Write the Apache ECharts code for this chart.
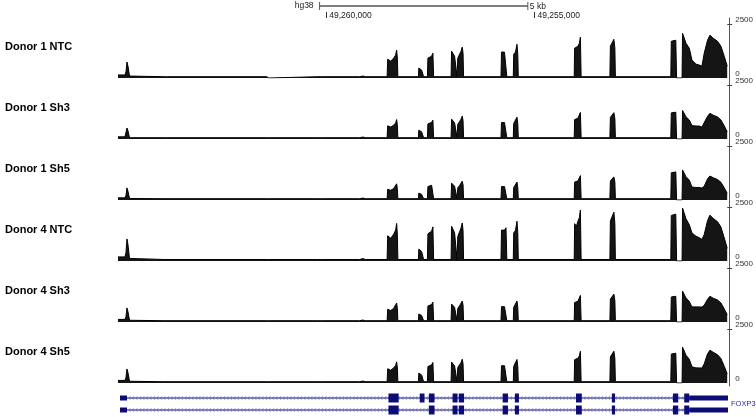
<!DOCTYPE html>
<html><head><meta charset="utf-8">
<script src="https://cdn.jsdelivr.net/npm/echarts@6/dist/echarts.min.js"></script>
<style>html,body{margin:0;padding:0;background:#fff}#c{width:756px;height:417px}</style>
</head><body><div id="c"></div>
<script>
// ---- data ----
const regionStart = 49265000;   // genomic coordinate at left edge (view is reversed)
const regionLen = 14670;        // bp shown
const trackNames = ['Donor 1 NTC', 'Donor 1 Sh3', 'Donor 1 Sh5', 'Donor 4 NTC', 'Donor 4 Sh3', 'Donor 4 Sh5'];
// positions: bp offset from left edge
const pos = [0,168,192,216,240,277,313, 1106,1118,1154,1166, 3583,3595,3632,3644, 4810,4858,4906, 5820,5892,5964,
  6481,6494,6566,6590,6638,6686,6710,6727,6739, 7234,7244,7287,7311,7347,7359, 7451,7463,7504,7552,7583,7600,
  8021,8033,8057,8105,8153,8165,8182,8225,8261,8290,8309,8321, 9223,9235,9271,9307,9343,9363,
  9519,9529,9572,9608,9627,9639, 10986,10996,11039,11075,11111,11135,11152, 11845,11857,11905,11941,11965,11977,
  13312,13324,13372,13432,13451, 13583,13595,13677,13757,13821,13918,13997,14062,14117,14197,14254,14334,14437,14519,14598,14670];
const donor1NTC = [140,140,280,740,550,90,60, 60,0,0,60, 60,0,0,60, 60,90,60, 60,90,60, 60,870,780,740,920,1060,1290,920,60, 60,460,410,370,410,60, 60,920,970,1010,1150,60, 60,1240,1200,1010,1010,60,920,1100,1240,1430,1150,60, 60,1200,1240,1200,1290,60, 60,1100,1200,1560,1100,60, 60,1380,1290,1470,1610,1890,60, 60,1470,1520,1790,1380,60, 60,1700,1750,1750,0, 0,2070,1610,1380,830,640,600,550,1150,1750,1980,1840,1700,1470,1010,550];
const donor1Sh3 = [100,100,190,510,380,60,60, 60,0,0,60, 60,60,60,60, 60,90,60, 60,90,60, 60,610,550,520,640,740,900,640,60, 60,410,370,330,370,60, 60,700,740,770,870,60, 60,920,890,750,750,60,680,810,920,1060,850,60, 60,760,780,760,810,60, 60,720,780,1010,720,60, 60,900,840,960,1050,1230,60, 60,1000,1030,1220,940,60, 60,1210,1240,1240,0, 0,1320,1030,880,620,600,600,550,760,1050,1190,1100,1020,880,610,330];
const donor1Sh5 = [100,100,210,560,410,70,60, 60,60,60,60, 60,60,60,60, 60,90,60, 60,90,60, 60,500,450,430,530,610,750,530,60, 60,320,290,260,290,60, 60,620,650,680,770,60, 60,780,760,640,640,60,560,670,760,870,700,60, 60,620,650,620,670,60, 60,580,640,830,580,60, 60,830,770,880,970,1130,60, 60,880,910,1070,830,60, 60,1260,1300,1300,0, 0,1390,1080,920,600,580,580,550,640,980,1110,1030,950,820,570,310];
const donor4NTC = [190,190,390,1020,760,120,70, 70,70,70,70, 70,70,70,70, 70,110,70, 70,110,70, 70,1170,1050,1000,1240,1430,1740,1240,70, 70,550,490,440,490,70, 70,1260,1330,1380,1580,70, 70,1610,1560,1310,1310,70,1130,1350,1530,1760,1410,70, 70,1430,1480,1430,1540,70, 70,1300,1420,1840,1300,70, 70,1730,1610,1840,2010,2360,70, 70,1850,1920,2260,1740,70, 70,2110,2170,2170,0, 0,2450,1960,1680,1300,1150,1080,1000,1230,1870,2120,1970,1820,1570,1080,590];
const donor4Sh3 = [120,120,250,650,480,80,60, 60,60,60,60, 60,60,60,60, 60,90,60, 60,90,60, 60,590,530,500,630,720,880,630,60, 60,370,330,300,330,60, 60,740,780,810,920,60, 60,830,800,680,680,60,630,750,840,970,780,60, 60,710,730,710,760,60, 60,680,740,970,680,60, 60,900,840,960,1050,1230,60, 60,1060,1090,1290,990,60, 60,1160,1190,1190,0, 0,1430,1110,950,700,700,700,690,780,1050,1190,1100,1020,880,610,330];
const donor4Sh5 = [120,120,250,650,480,80,60, 60,60,60,60, 60,60,60,60, 60,90,60, 60,90,60, 60,660,590,560,700,810,980,700,60, 60,460,410,370,410,60, 60,760,810,840,950,60, 60,970,940,790,790,60,710,850,950,1100,890,60, 60,800,830,800,860,60, 60,770,840,1090,770,60, 60,1080,1010,1150,1260,1470,60, 60,1210,1250,1470,1130,60, 60,1340,1380,1380,0, 0,1660,1290,1100,750,700,700,690,890,1350,1520,1420,1310,1130,780,420];
const trackValues = [donor1NTC, donor1Sh3, donor1Sh5, donor4NTC, donor4Sh3, donor4Sh5];
const yTickLabels = [0, 2500];
const coordTicks = [49260000, 49255000];
const scaleBarStart = 4840, scaleBarLen = 5000, scaleBarLabel = '5 kb', assembly = 'hg38';
// transcripts: [startOffset, endOffset, isCoding]
const transcriptA = [[48,216,0],[6494,6739,1],[7244,7359,1],[7463,7600,1],[8033,8153,1],[8182,8309,1],[9235,9363,1],[9529,9627,1],[10996,11135,1],[11857,11935,1],[13324,13451,1],[13595,13715,1],[13715,14646,0]];
const transcriptB = [[48,216,0],[6494,6739,1],[7463,7600,1],[8033,8153,1],[8182,8309,1],[9235,9363,1],[9529,9627,1],[10996,11135,1],[11857,11935,1],[13324,13451,1],[13595,13715,1],[13715,14646,0]];
const transcripts = [transcriptA, transcriptB];
const geneName = 'FOXP3';

// ---- layout ----
const L = 118, R = 27, T0 = 24, STEP = 61, H = 54;
const FONT = 'Liberation Sans, Arial, sans-serif';
const geneColor = 'rgb(12,12,120)';

const chart = echarts.init(document.getElementById('c'), null, {renderer: 'canvas'});
const grid = [], xAxis = [], yAxis = [], series = [], graphic = [];

trackNames.forEach((name, i) => {
  const top = T0 + STEP * i;
  grid.push({left: L, right: R, top: top, height: H});
  xAxis.push({type: 'value', gridIndex: i, min: 0, max: regionLen, show: false});
  yAxis.push({type: 'value', gridIndex: i, min: 0, max: 2500, position: 'right', splitLine: {show: false},
    axisLine: {show: false, onZero: false},
    axisTick: {show: true, customValues: [2500], length: 5, lineStyle: {color: '#444', width: 1}},
    axisLabel: {show: true, customValues: yTickLabels, fontSize: 8, color: '#333', fontFamily: FONT, margin: 8,
      verticalAlign: 'bottom', formatter: v => String(v)}});
  series.push({type: 'line', xAxisIndex: i, yAxisIndex: i, data: pos.map((p, k) => [p, trackValues[i][k]]),
    showSymbol: false, silent: true, animation: false,
    lineStyle: {color: '#000', width: 1}, areaStyle: {color: '#151515', opacity: 1}});
  graphic.push({type: 'text', left: 5, top: top + 24 - 7, silent: true,
    style: {text: name, font: 'bold 11px ' + FONT, fill: '#000'}});
});

// continuous right axis line
const gAxis = grid.length;
grid.push({left: L, right: R, top: 18, height: 368});
xAxis.push({type: 'value', gridIndex: gAxis, min: 0, max: regionLen, show: false});
yAxis.push({type: 'value', gridIndex: gAxis, min: 0, max: 1, position: 'right', splitLine: {show: false},
  axisLine: {show: true, onZero: false, lineStyle: {color: '#555', width: 1}}, axisTick: {show: false}, axisLabel: {show: false}});

// scale bar grid on top
const gScale = grid.length;
grid.push({left: L, right: R, top: 0, height: 12});
xAxis.push({type: 'value', gridIndex: gScale, min: 0, max: regionLen, position: 'bottom',
  splitLine: {show: false}, axisLine: {show: false, onZero: false},
  axisTick: {show: true, customValues: coordTicks.map(c => regionStart - c), length: 6, lineStyle: {color: '#333'}},
  axisLabel: {show: true, customValues: coordTicks.map(c => regionStart - c), align: 'left', verticalAlign: 'middle',
    padding: [0, 0, 0, 3], margin: 4, fontSize: 8.5, color: '#222', fontFamily: FONT,
    formatter: v => Math.round(regionStart - v).toLocaleString('en-US')}});
yAxis.push({type: 'value', gridIndex: gScale, min: -1, max: 1, show: false});
series.push({type: 'custom', xAxisIndex: gScale, yAxisIndex: gScale, silent: true, animation: false,
  data: [[scaleBarStart, 0]],
  renderItem: (params, api) => {
    const a = api.coord([scaleBarStart, 0]), b = api.coord([scaleBarStart + scaleBarLen, 0]);
    const st = {stroke: '#555', lineWidth: 1.5};
    return {type: 'group', children: [
      {type: 'line', shape: {x1: a[0], y1: a[1], x2: b[0], y2: b[1]}, style: st},
      {type: 'line', shape: {x1: a[0], y1: a[1] - 4, x2: a[0], y2: a[1] + 4}, style: {stroke: '#555', lineWidth: 1}},
      {type: 'line', shape: {x1: b[0], y1: b[1] - 4, x2: b[0], y2: b[1] + 4}, style: {stroke: '#555', lineWidth: 1}},
      {type: 'text', x: a[0] - 6, y: a[1], style: {text: assembly, font: '8.5px ' + FONT, fill: '#222', align: 'right', verticalAlign: 'middle'}},
      {type: 'text', x: b[0] + 2, y: b[1] + 1, style: {text: scaleBarLabel, font: '8.5px ' + FONT, fill: '#222', align: 'left', verticalAlign: 'middle'}}
    ]};
  }});

// gene track
const gGene = grid.length;
grid.push({left: L, right: R, top: 392, height: 24});
xAxis.push({type: 'value', gridIndex: gGene, min: 0, max: regionLen, show: false});
yAxis.push({type: 'category', gridIndex: gGene, data: ['t1', 't2'], inverse: true, show: false});
series.push({type: 'custom', xAxisIndex: gGene, yAxisIndex: gGene, silent: true, animation: false,
  data: transcripts.map((t, i) => [t[0][0], i]),
  renderItem: (params, api) => {
    const i = params.dataIndex, ex = transcripts[i];
    const p0 = api.coord([ex[0][0], i]), p1 = api.coord([ex[ex.length - 1][1], i]);
    const y = p0[1];
    const ch = [{type: 'line', shape: {x1: p0[0], y1: y, x2: p1[0], y2: y}, style: {stroke: geneColor, lineWidth: 1}}];
    for (let x = p0[0] + 2; x < p1[0] - 2; x += 3.5) {
      ch.push({type: 'polyline', shape: {points: [[x + 1.5, y - 2], [x, y], [x + 1.5, y + 2]]},
        style: {stroke: 'rgba(60,60,170,0.55)', lineWidth: 0.8, fill: null}});
    }
    ex.forEach(e => {
      const a = api.coord([e[0], i]), b = api.coord([e[1], i]);
      const h = e[2] ? 9 : 5;
      ch.push({type: 'rect', shape: {x: a[0], y: y - h / 2, width: Math.max(1.5, b[0] - a[0]), height: h}, style: {fill: geneColor}});
    });
    return {type: 'group', children: ch};
  }});
graphic.push({type: 'text', left: 731, top: 400, silent: true, style: {text: geneName, font: '7.5px ' + FONT, fill: 'rgb(40,40,170)'}});

chart.setOption({animation: false, backgroundColor: '#fff', grid, xAxis, yAxis, series, graphic});
</script></body></html>
